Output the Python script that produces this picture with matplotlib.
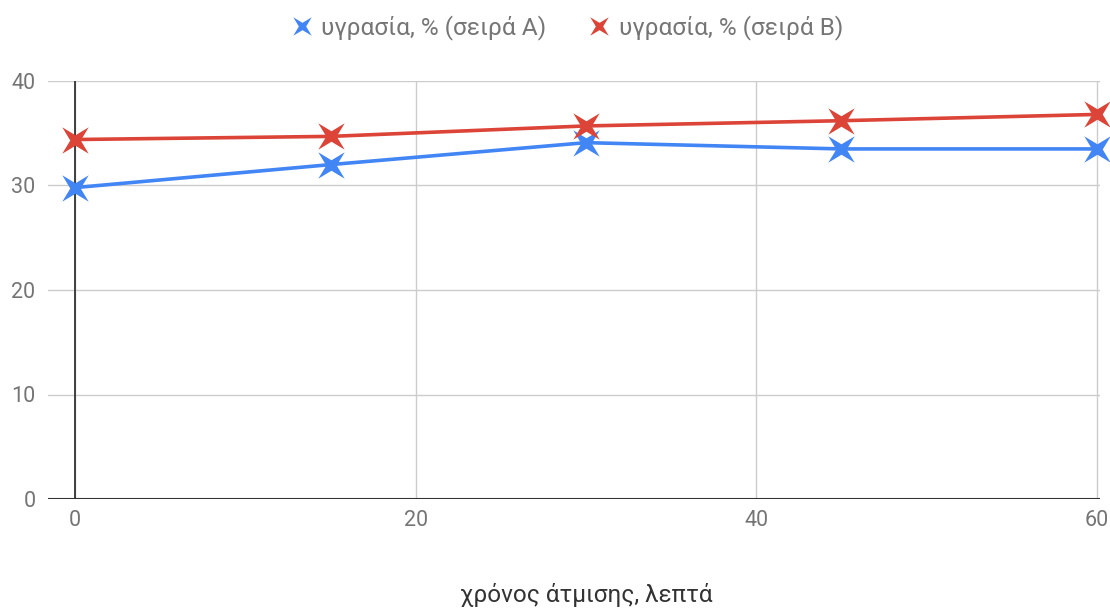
import numpy as np
import matplotlib.pyplot as plt
from matplotlib.path import Path

plt.rcParams['font.family'] = ['Roboto', 'DejaVu Sans']

# Datos de humedad durante la evaporacion
tiempo = [0, 15, 30, 45, 60]
serie_a = [29.8, 32.0, 34.1, 33.5, 33.5]
serie_b = [34.4, 34.7, 35.7, 36.2, 36.8]
etiqueta_a = 'υγρασία, % (σειρά A)'
etiqueta_b = 'υγρασία, % (σειρά B)'

# Marcador de estrella de 4 puntas en diagonal
ang = np.arange(8) * np.pi / 4 + np.pi / 4
rad = np.where(np.arange(8) % 2 == 0, 1.0, 0.28)
verts = np.column_stack([rad * np.cos(ang), rad * np.sin(ang)])
verts = np.vstack([verts, verts[:1]])
estrella = Path(verts, [Path.MOVETO] + [Path.LINETO] * 7 + [Path.CLOSEPOLY])

fig = plt.figure(figsize=(11.1, 6.08), dpi=100)
ax = fig.add_axes([48 / 1110, 1 - 499 / 608, (1100 - 48) / 1110, (499 - 81) / 608])

azul = '#4285F4'
rojo = '#DB4437'
ax.plot(tiempo, serie_a, color=azul, lw=2.6, marker=estrella, ms=19,
        mew=0, label=etiqueta_a, zorder=3, clip_on=False)
ax.plot(tiempo, serie_b, color=rojo, lw=2.6, marker=estrella, ms=19,
        mew=0, label=etiqueta_b, zorder=3, clip_on=False)

ax.set_xlim(-1.6, 60.2)
ax.set_ylim(0, 40)
ax.set_xticks([0, 20, 40, 60])
ax.set_yticks([0, 10, 20, 30, 40])
ax.grid(True, color='#cccccc', lw=1)
ax.set_axisbelow(True)
ax.axvline(0, color='#333333', lw=1.3, zorder=2)
ax.axhline(0, color='#333333', lw=1.5, zorder=2)
for s in ax.spines.values():
    s.set_visible(False)
ax.tick_params(length=0, labelsize=15.5, colors='#757575')
ax.tick_params(axis='x', pad=8)
ax.tick_params(axis='y', pad=9)

ax.set_xlabel('χρόνος άτμισης, λεπτά', fontsize=17.5, color='#333333', labelpad=34)
ax.xaxis.set_label_coords(0.512, -0.20)

ax.legend(loc='center', bbox_to_anchor=(0.494, 1.127), ncol=2, frameon=False,
          fontsize=17.6, labelcolor='#757575', handlelength=0.8, columnspacing=1.75,
          handletextpad=0.4, markerscale=0.7, borderpad=0)
leg = ax.get_legend()
for h in leg.legend_handles:
    h.set_linestyle('none')

fig.savefig('out.png', dpi=100)
